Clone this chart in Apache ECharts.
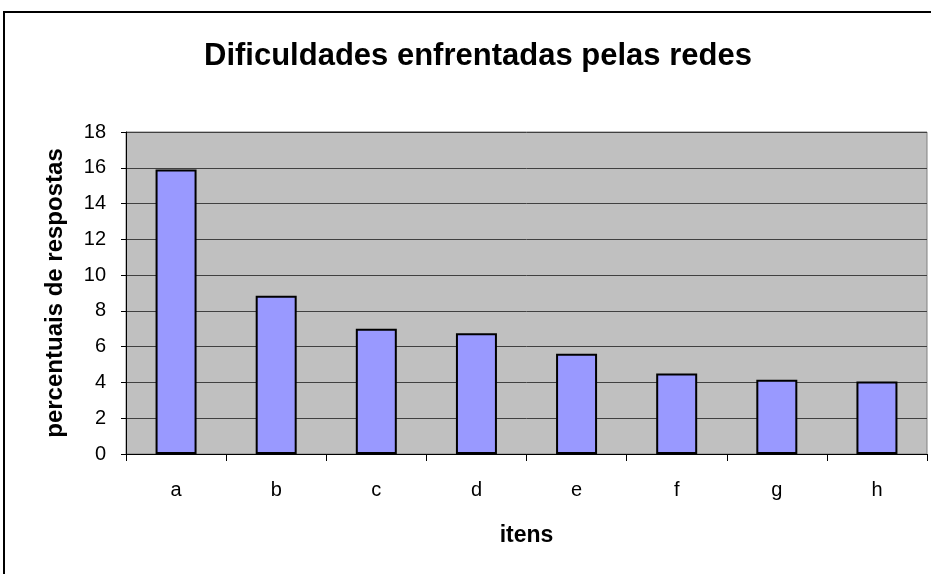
<!DOCTYPE html>
<html>
<head>
<meta charset="utf-8">
<script src="https://cdn.jsdelivr.net/npm/echarts@6/dist/echarts.min.js"></script>
<style>
  html, body { margin: 0; padding: 0; background: #fff; }
  #main { width: 931px; height: 574px; }
</style>
</head>
<body>
<div id="main"></div>
<script>
// dados
const itens = ['a', 'b', 'c', 'd', 'e', 'f', 'g', 'h']
const percentuais = [15.9, 8.85, 7.0, 6.75, 5.6, 4.5, 4.15, 4.05]

const chart = echarts.init(document.getElementById('main'))
chart.setOption({
  backgroundColor: '#fff',
  animation: false,
  title: {
    text: 'Dificuldades enfrentadas pelas redes',
    left: 199,
    top: 36,
    textStyle: { fontFamily: 'Liberation Sans', fontSize: 31, fontWeight: 'bold', color: '#000' }
  },
  graphic: [{
    type: 'rect',
    shape: { x: 4, y: 12, width: 940, height: 580 },
    style: { fill: null, stroke: '#000', lineWidth: 2 },
    silent: true
  }],
  grid: {
    left: 126, right: 4, top: 132, bottom: 120,
    show: true,
    backgroundColor: '#c0c0c0',
    borderColor: '#808080',
    borderWidth: 1
  },
  xAxis: {
    type: 'category',
    data: itens,
    name: 'itens',
    nameLocation: 'middle',
    nameGap: 70,
    nameTextStyle: { fontFamily: 'Liberation Sans', fontSize: 23, fontWeight: 'bold', color: '#000' },
    axisLine: { lineStyle: { color: '#000', width: 1 } },
    axisTick: { show: true, length: 7, lineStyle: { color: '#000' } },
    axisLabel: { margin: 26, fontFamily: 'Liberation Sans', fontSize: 20, color: '#000' }
  },
  yAxis: {
    type: 'value',
    min: 0,
    max: 18,
    interval: 2,
    name: 'percentuais de respostas',
    nameLocation: 'middle',
    nameGap: 59,
    nameTextStyle: { fontFamily: 'Liberation Sans', fontSize: 24, fontWeight: 'bold', color: '#000' },
    axisLine: { show: true, lineStyle: { color: '#000', width: 1 } },
    axisTick: { show: true, length: 5, lineStyle: { color: '#000' } },
    axisLabel: { margin: 20, fontFamily: 'Liberation Sans', fontSize: 20, color: '#000' },
    splitLine: { show: true, lineStyle: { color: '#404040', width: 1 } }
  },
  series: [{
    type: 'bar',
    data: percentuais,
    barWidth: 41,
    itemStyle: { color: '#9999ff', borderColor: '#000', borderWidth: 2 }
  }]
})
</script>
</body>
</html>
